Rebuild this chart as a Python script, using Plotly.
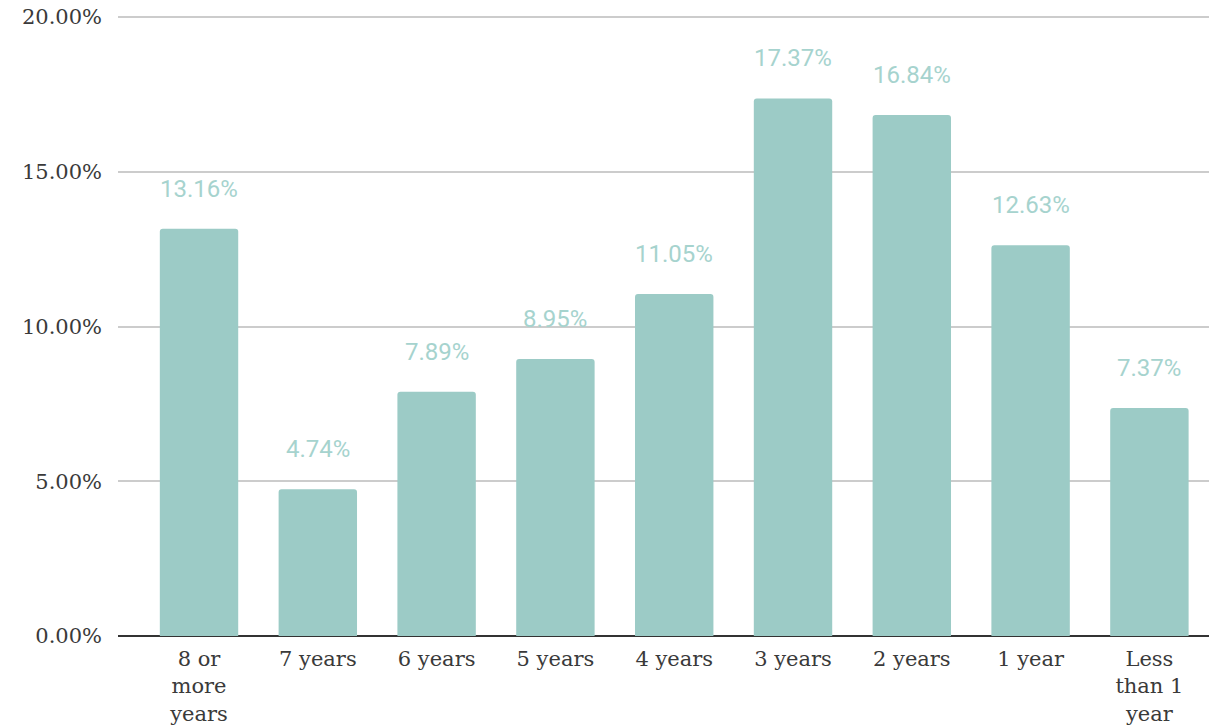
import plotly.graph_objects as go

categories = ["8 or<br>more<br>years", "7 years", "6 years", "5 years", "4 years",
              "3 years", "2 years", "1 year", "Less<br>than 1<br>year"]
shares = [13.16, 4.74, 7.89, 8.95, 11.05, 17.37, 16.84, 12.63, 7.37]
y_ticks = [0, 5, 10, 15, 20]
y_tick_labels = ["0.00%", "5.00%", "10.00%", "15.00%", "20.00%"]

bar_color = "#9ccbc6"
label_color = "#a6d3ce"
serif = "Georgia, 'DejaVu Serif', serif"

fig = go.Figure()
fig.add_trace(go.Bar(
    x=categories,
    y=shares,
    width=0.66,
    marker=dict(color=bar_color, cornerradius=3, line=dict(width=0)),
    hoverinfo="skip",
))

# value labels above the bars
for c, v in zip(categories, shares):
    fig.add_annotation(
        x=c, y=v, text=f"{v:.2f}%", showarrow=False,
        yanchor="middle", yshift=40,
        font=dict(family="Roboto", size=24, color=label_color),
    )

# page body adds an 8px margin, so the figure is sized to fit the window
fig.update_layout(
    width=1209, height=720,
    margin=dict(l=110, r=0, t=6, b=92),
    paper_bgcolor="white", plot_bgcolor="white",
    showlegend=False,
    bargap=0.3,
)
fig.update_xaxes(
    range=[-0.682, 8.569],
    automargin=False,
    showgrid=False,
    showline=False,
    ticks="",
    tickfont=dict(family=serif, size=21, color="#3a3a3a"),
    ticklabelstandoff=8,
)
fig.update_yaxes(
    range=[0, 20.1],
    automargin=False,
    tickvals=y_ticks,
    ticktext=y_tick_labels,
    ticklabeloverflow="allow",
    showgrid=True, gridcolor="#cccccc", gridwidth=1.5,
    zeroline=True, zerolinecolor="#333333", zerolinewidth=2,
    showline=False,
    ticks="",
    tickfont=dict(family=serif, size=21, color="#3a3a3a"),
    ticklabelstandoff=15,
)

fig.write_html("out.html")
